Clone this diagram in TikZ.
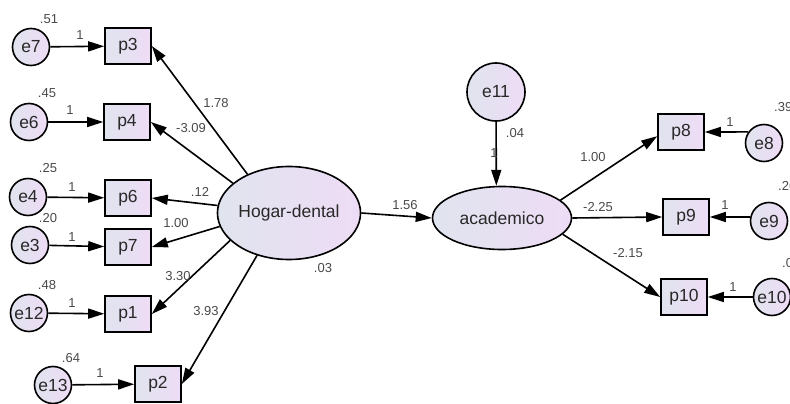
\documentclass[tikz,border=0pt]{standalone}
\usepackage{fontspec}
\setmainfont{Liberation Sans}
\usepackage{tikz}
\usetikzlibrary{shapes.geometric}
\usetikzlibrary{arrows.meta}
\definecolor{fillL}{RGB}{224,228,238}
\definecolor{fillR}{RGB}{238,220,246}
\definecolor{txt}{RGB}{40,40,40}
\tikzstyle{arrow} = [line width=1.6pt,-{Triangle[length=16pt,width=10pt]}]

\begin{document}
\begin{tikzpicture}[x=1pt,y=-1pt,
  obj/.style = {draw,line width=1.6pt,left color=fillL,right color=fillR,
        text=txt,font=\fontsize{17.5}{20}\selectfont,inner sep=0pt},
  box/.style = {obj,rectangle,minimum width=46pt,minimum height=36pt},
  err/.style = {obj,circle,minimum size=37pt},
  lat/.style = {obj,ellipse},
  num/.style = {text=txt!85,font=\fontsize{13}{15}\selectfont,inner sep=0pt}]
 \useasboundingbox (0,0) rectangle (790,404);
 % left side
 \node[err] (e7)  at (31,47)   {e7};
 \node[box] (p3)  at (128,46)  {p3};
 \node[err] (e6)  at (29,122)  {e6};
 \node[box] (p4)  at (127,122) {p4};
 \node[err] (e4)  at (28,197)  {e4};
 \node[box] (p6)  at (128,198) {p6};
 \node[err] (e3)  at (30,245)  {e3};
 \node[box] (p7)  at (128,247) {p7};
 \node[err] (e12) at (29,313)  {e12};
 \node[box] (p1)  at (128,314) {p1};
 \node[err] (e13) at (53,385)  {e13};
 \node[box] (p2)  at (158,384) {p2};
 % latents
 \node[lat,minimum width=123pt,minimum height=93pt] (hog) at (289,213) {Hogar-dental};
 \node[lat,minimum width=139pt,minimum height=63pt] (aca) at (502,218) {academico};
 \node[obj,circle,minimum size=58pt] (e11) at (496,92) {e11};
 % right side
 \node[box] (p8)  at (681,132) {p8};
 \node[box] (p9)  at (686,217) {p9};
 \node[box] (p10) at (684,297) {p10};
 \node[err] (e8)  at (764,143) {e8};
 \node[err] (e9)  at (769,221) {e9};
 \node[err] (e10) at (772,297) {e10};
 \begin{scope}[arrow]
  \path
  (e7)  edge (p3)
  (e6)  edge (p4)
  (e4)  edge (p6)
  (e3)  edge (p7)
  (e12) edge (p1)
  (e13) edge (p2)
  (hog.137) edge (p3.east)
  (hog.152) edge (p4.east)
  (hog.174) edge (p6.east)
  (hog.191) edge (p7.east)
  (hog.205) edge (p1.east)
  (hog.233) edge (p2.east)
  (hog.east) edge (aca.west)
  (e11) edge (aca.100)
  (aca.17) edge (p8.190)
  (aca.east) edge (p9.west)
  (aca.345) edge (p10.west)
  (e8.145) edge (p8.east)
  (e9.168) edge (p9.east)
  (e10) edge (p10);
 \end{scope}
 % estimates
 \node[num] (v7)  at (49,19)  {.51};
 \node[num] (v6)  at (47,93)  {.45};
 \node[num] (v4)  at (48,168) {.25};
 \node[num] (v3)  at (48,218) {.20};
 \node[num] (v12) at (47,285) {.48};
 \node[num] (v13) at (71,358) {.64};
 \node[num] (f7)  at (80,35)  {1};
 \node[num] (f6)  at (70,110) {1};
 \node[num] (f4)  at (72,187) {1};
 \node[num] (f3)  at (72,237) {1};
 \node[num] (f12) at (72,303) {1};
 \node[num] (f13) at (100,373) {1};
 \node[num] (w3)  at (216,103) {1.78};
 \node[num] (w4)  at (191,128) {-3.09};
 \node[num] (w6)  at (200,192) {.12};
 \node[num] (w7)  at (176,223) {1.00};
 \node[num] (w1)  at (178,276) {3.30};
 \node[num] (w2)  at (206,311) {3.93};
 \node[num] (wa)  at (405,205) {1.56};
 \node[num] (vh)  at (323,268) {.03};
 \node[num] (v11) at (515,133) {.04};
 \node[num] (f11) at (494,153) {1};
 \node[num] (w8)  at (593,157) {1.00};
 \node[num] (w9)  at (598,207) {-2.25};
 \node[num] (w10) at (628,253) {-2.15};
 \node[num] (f8)  at (730,122) {1};
 \node[num] (f9)  at (725,205) {1};
 \node[num] (f10) at (733,287) {1};
 \node[num,anchor=west] (v8)  at (774,107) {.39};
 \node[num,anchor=west] (v9)  at (778,186) {.26};
 \node[num,anchor=west] (v10) at (782,263) {.0};
\end{tikzpicture}
\end{document}
